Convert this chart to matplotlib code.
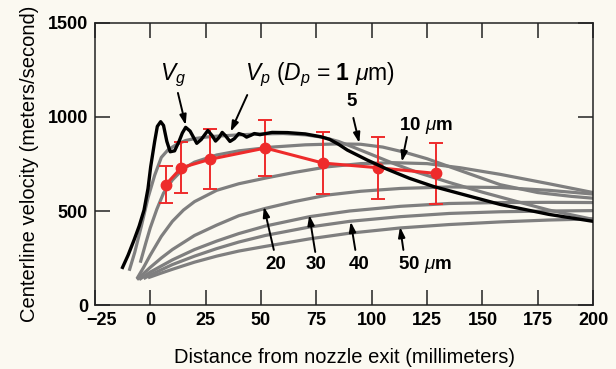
import numpy as np
import matplotlib
matplotlib.use("Agg")
import matplotlib.pyplot as plt
import matplotlib.transforms as mtransforms

plt.rcParams['font.family'] = ['Liberation Sans', 'DejaVu Sans']
plt.rcParams['mathtext.fontset'] = 'custom'
plt.rcParams['mathtext.rm'] = 'Liberation Sans'
plt.rcParams['mathtext.it'] = 'Liberation Sans:italic'
plt.rcParams['mathtext.bf'] = 'Liberation Sans:bold'

# gas velocity V_g (mm, m/s)
vg_x = [-12.5, -10, -7.3, -5, -2.8, -1, 0.2, 2, 3.2, 4.7, 6, 7.5, 9, 11, 13, 14.5, 16,
        18, 21, 23, 26, 28, 29.5, 31, 32.5, 34, 36, 38, 40, 42, 43.5, 45.5, 47, 49.5,
        55, 62, 70, 77, 81, 85, 89, 98, 107, 117, 128, 140, 158, 180, 200]
vg_v = [200, 265, 346, 420, 505, 620, 735, 870, 950, 975, 955, 870, 815, 820, 870, 915, 945,
        925, 860, 880, 928, 900, 872, 890, 918, 900, 870, 885, 912, 905, 893, 903, 912, 906,
        918, 917, 910, 895, 881, 855, 824, 771, 722, 674, 630, 592, 535, 482, 445]

# particle velocity V_p for each diameter (micrometers)
p1_x = [-9.5, -7, -4, -1, 2, 5, 8, 12, 16, 20, 25, 30, 40, 50, 60, 70, 78, 85, 92,
        100, 110, 120, 135, 150, 165, 180, 200]
p1_v = [182, 280, 420, 570, 690, 785, 825, 855, 875, 885, 893, 898, 905, 910, 912, 905,
        892, 870, 838, 800, 752, 708, 652, 600, 552, 505, 455]

p5_x = [-4.5, -2, 0, 3, 6, 10, 15, 20, 30, 40, 55, 70, 85, 95, 105, 115, 125, 140,
        158, 175, 190, 200]
p5_v = [225, 330, 410, 510, 595, 665, 725, 760, 798, 820, 840, 852, 857, 855, 840, 812,
        778, 715, 640, 598, 578, 568]

p10_x = [-6, -3, 0, 5, 10, 15, 20, 30, 40, 52, 65, 80, 95, 110, 125, 140, 158, 180, 200]
p10_v = [140, 200, 265, 365, 445, 505, 550, 610, 645, 675, 705, 735, 752, 757, 752, 730,
         695, 645, 598]

p20_x = [-6, 0, 5, 10, 20, 30, 40, 52, 65, 80, 95, 113, 135, 158, 180, 200]
p20_v = [135, 200, 250, 295, 370, 425, 475, 514, 550, 585, 605, 620, 628, 625, 610, 590]

p30_x = [-5, 0, 10, 20, 30, 40, 52, 72, 90, 113, 135, 158, 180, 200]
p30_v = [135, 175, 240, 295, 340, 380, 420, 470, 500, 525, 540, 545, 546, 545]

p40_x = [-3, 0, 10, 20, 30, 40, 52, 72, 90, 113, 135, 158, 180, 200]
p40_v = [140, 160, 215, 260, 300, 335, 370, 415, 445, 470, 487, 496, 500, 502]

p50_x = [-1, 5, 10, 20, 30, 40, 52, 72, 90, 113, 135, 158, 180, 200]
p50_v = [145, 170, 190, 228, 260, 287, 312, 352, 382, 410, 428, 442, 452, 458]

# measured points with error bars
meas_x = [7, 14, 27, 52, 78, 103, 129]
meas_v = [640, 730, 775, 835, 755, 730, 700]
meas_err = [100, 135, 160, 150, 165, 165, 162]

x_ticks = [-25, 0, 25, 50, 75, 100, 125, 150, 175, 200]
y_ticks = [0, 500, 1000, 1500]

bg = '#fbf9f1'
gray = '#7f7f7f'
red = '#ee2b2b'

fig = plt.figure(figsize=(6.16, 3.69), dpi=100, facecolor=bg)
ax = fig.add_axes([0.154, 0.1734, 0.809, 0.7643])
ax.set_facecolor(bg)

for px, pv in [(p1_x, p1_v), (p5_x, p5_v), (p10_x, p10_v), (p20_x, p20_v),
               (p30_x, p30_v), (p40_x, p40_v), (p50_x, p50_v)]:
    ax.plot(px, pv, color=gray, lw=2.3, solid_capstyle='butt', zorder=2)

ax.errorbar(meas_x, meas_v, yerr=meas_err, color=red, lw=2.2, marker='o', ms=7.5,
            elinewidth=1.4, capsize=5, capthick=1.4, zorder=3)

ax.plot(vg_x, vg_v, color='black', lw=2.4, solid_joinstyle='round', zorder=4)

ax.set_xlim(-25, 200)
ax.set_ylim(0, 1500)
ax.set_xticks(x_ticks)
ax.set_yticks(y_ticks)
ax.tick_params(direction='in', length=11, width=1.1, top=True, right=True,
               labelsize=13, pad=5, color='#222222')
for lab in ax.get_xticklabels() + ax.get_yticklabels():
    lab.set_fontweight('bold')
# first x label sits a little to the right in the original
first = ax.get_xticklabels()[0]
first.set_transform(first.get_transform() +
                    mtransforms.ScaledTranslation(7 / 100, 0, fig.dpi_scale_trans))
for sp in ax.spines.values():
    sp.set_linewidth(1.1)
    sp.set_color('#222222')

ax.set_xlabel('Distance from nozzle exit (millimeters)', fontsize=14.5, labelpad=14)
ax.set_ylabel('Centerline velocity (meters/second)', fontsize=14.5, labelpad=6)

arrow = dict(arrowstyle='-|>,head_length=0.6,head_width=0.2', color='black', lw=1.4,
             shrinkA=0, shrinkB=0)
txt = dict(ha='center', va='center', fontsize=13.5)

ax.annotate(r'$V_g$', xy=(16, 957), xytext=(10.1, 1223), fontsize=16.5,
            ha='center', va='center')
ax.annotate('', xy=(16, 957), xytext=(12.5, 1128), arrowprops=arrow)

ax.text(43, 1223, r'$V_p$ ($D_p$ = $\mathbf{1}$ $\mu$m)', fontsize=16.5, ha='left', va='center')
ax.annotate('', xy=(36.3, 922), xytext=(43.8, 1117), arrowprops=arrow)

ax.text(90.8, 1080, '5', fontweight='bold', **txt)
ax.annotate('', xy=(94.4, 862), xytext=(91.7, 995), arrowprops=arrow)

ax.text(124.5, 957, r'10 $\mu$m', fontweight='bold', **txt)
ax.annotate('', xy=(113.6, 762), xytext=(115.9, 894), arrowprops=arrow)

ax.text(56.5, 213, '20', fontweight='bold', **txt)
ax.annotate('', xy=(51.3, 523), xytext=(55.8, 293), arrowprops=arrow)

ax.text(75, 213, '30', fontweight='bold', **txt)
ax.annotate('', xy=(71.8, 479), xytext=(74.5, 282), arrowprops=arrow)

ax.text(94.4, 213, '40', fontweight='bold', **txt)
ax.annotate('', xy=(90.5, 443), xytext=(92.6, 293), arrowprops=arrow)

ax.text(124.1, 213, r'50 $\mu$m', fontweight='bold', **txt)
ax.annotate('', xy=(112.8, 415), xytext=(114.3, 293), arrowprops=arrow)

fig.savefig('out.png', dpi=100, facecolor=bg)
